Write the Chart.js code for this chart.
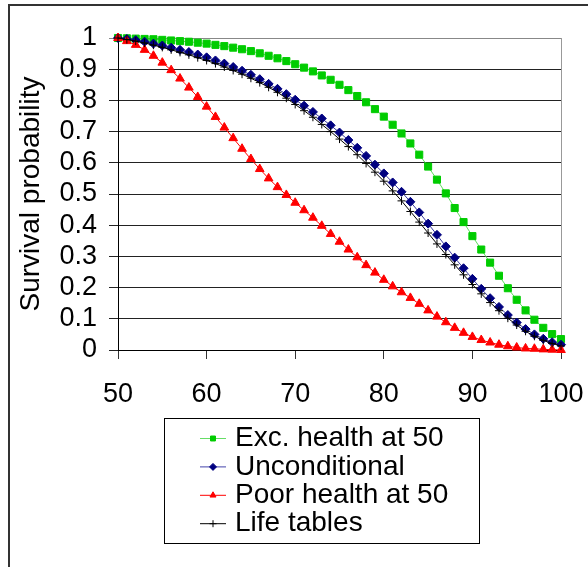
<!DOCTYPE html>
<html lang="en">
<head>
<meta charset="UTF-8">
<title>Survival probability</title>
<script src="https://cdn.jsdelivr.net/npm/chart.js"></script>
<style>
    body { margin: 0; padding: 0; background: #fff; }
    #wrap { width: 588px; height: 567px; }
</style>
</head>
<body>
<div id="wrap"><canvas id="survChart" width="588" height="567"></canvas></div>
<script>
// ages (x) and survival curves
const ages = [50,51,52,53,54,55,56,57,58,59,60,61,62,63,64,65,66,67,68,69,70,71,72,73,74,75,
              76,77,78,79,80,81,82,83,84,85,86,87,88,89,90,91,92,93,94,95,96,97,98,99,100];
const excHealth = [1.000,0.999,0.998,0.997,0.996,0.994,0.992,0.990,0.988,0.985,
                   0.982,0.978,0.974,0.969,0.964,0.958,0.951,0.943,0.935,0.926,
                   0.916,0.905,0.893,0.880,0.866,0.850,0.833,0.814,0.794,0.772,
                   0.748,0.722,0.694,0.662,0.626,0.588,0.546,0.502,0.455,0.410,
                   0.365,0.322,0.280,0.238,0.198,0.161,0.127,0.097,0.071,0.051,0.035];
const unconditional = [1.000,0.997,0.993,0.988,0.982,0.976,0.969,0.962,0.955,0.947,
                       0.938,0.928,0.918,0.907,0.895,0.882,0.868,0.853,0.837,0.820,
                       0.802,0.783,0.763,0.742,0.720,0.697,0.673,0.648,0.622,0.594,
                       0.566,0.537,0.507,0.475,0.441,0.405,0.369,0.332,0.296,0.262,
                       0.228,0.196,0.166,0.138,0.112,0.088,0.067,0.050,0.036,0.025,0.017];
const poorHealth = [1.000,0.990,0.978,0.962,0.943,0.921,0.897,0.870,0.841,0.811,
                    0.780,0.747,0.713,0.679,0.645,0.612,0.580,0.550,0.522,0.497,
                    0.472,0.448,0.424,0.398,0.372,0.347,0.322,0.297,0.272,0.248,
                    0.225,0.204,0.185,0.167,0.148,0.127,0.107,0.089,0.071,0.055,
                    0.042,0.032,0.024,0.017,0.012,0.008,0.005,0.004,0.002,0.001,0.000];
const lifeTables = [1.000,0.995,0.990,0.984,0.977,0.970,0.962,0.954,0.946,0.937,
                    0.928,0.918,0.907,0.896,0.884,0.871,0.857,0.842,0.826,0.807,
                    0.787,0.767,0.746,0.723,0.700,0.676,0.652,0.626,0.598,0.570,
                    0.541,0.510,0.478,0.444,0.410,0.375,0.340,0.306,0.273,0.241,
                    0.210,0.180,0.152,0.126,0.102,0.080,0.060,0.044,0.031,0.021,0.013];
const seriesNames = ['Exc. health at 50', 'Unconditional', 'Poor health at 50', 'Life tables'];
const xTicks = [50, 60, 70, 80, 90, 100];
const yTicks = [0, 0.1, 0.2, 0.3, 0.4, 0.5, 0.6, 0.7, 0.8, 0.9, 1];
const yTickLabels = ['0', '0.1', '0.2', '0.3', '0.4', '0.5', '0.6', '0.7', '0.8', '0.9', '1'];

const FONT = '"Liberation Sans", Arial, sans-serif';

function pts(values) {
    return ages.map((a, i) => ({ x: a, y: values[i] }));
}

// frame round the picture + grey right edge of the plot
const frame = {
    id: 'frame',
    beforeDraw(chart) {
        const ctx = chart.ctx;
        ctx.save();
        ctx.fillStyle = '#fff';
        ctx.fillRect(0, 0, chart.width, chart.height);
        ctx.strokeStyle = '#333';
        ctx.lineWidth = 2;
        ctx.beginPath();
        ctx.moveTo(9, chart.height);
        ctx.lineTo(9, 5);
        ctx.lineTo(chart.width, 5);
        ctx.stroke();
        ctx.restore();
    },
    beforeDatasetsDraw(chart) {
        const a = chart.chartArea, ctx = chart.ctx;
        ctx.save();
        ctx.strokeStyle = '#999';
        ctx.lineWidth = 1;
        ctx.beginPath();
        ctx.moveTo(Math.round(a.right) + 0.5, a.top);
        ctx.lineTo(Math.round(a.right) + 0.5, a.bottom);
        ctx.stroke();
        ctx.restore();
    }
};

// boxed legend below the plot, line + marker like the original
const boxLegend = {
    id: 'boxLegend',
    afterDraw(chart) {
        const ctx = chart.ctx;
        ctx.save();
        ctx.strokeStyle = '#000';
        ctx.lineWidth = 1;
        ctx.strokeRect(164.5, 418.5, 315, 125);
        ctx.font = '28px ' + FONT;
        ctx.textBaseline = 'middle';
        chart.data.datasets.forEach((ds, i) => {
            const y = 438.5 + i * 28.4;
            ctx.strokeStyle = ds.legendLine;
            ctx.lineWidth = 1;
            ctx.beginPath();
            ctx.moveTo(200, y);
            ctx.lineTo(226, y);
            ctx.stroke();
            ctx.fillStyle = ds.pointBackgroundColor;
            ctx.strokeStyle = ds.pointBorderColor;
            Chart.helpers.drawPoint(ctx, { pointStyle: ds.pointStyle, radius: 3.5, borderWidth: 1, rotation: 0 }, 213, y);
            ctx.fillStyle = '#000';
            ctx.fillText(ds.label, 235, y);
        });
        ctx.restore();
    }
};

const ctx = document.getElementById('survChart').getContext('2d');
new Chart(ctx, {
    type: 'line',
    data: {
        datasets: [
            { label: seriesNames[0], data: pts(excHealth), borderColor: '#5fdc5f', legendLine: '#66dd66',
              pointStyle: 'rect', pointRadius: 5, pointBackgroundColor: '#00cc00', pointBorderColor: '#00cc00', order: 3 },
            { label: seriesNames[1], data: pts(unconditional), borderColor: '#3a3aa0', legendLine: '#4444aa',
              pointStyle: 'rectRot', pointRadius: 4.5, pointBackgroundColor: '#000080', pointBorderColor: '#000080', order: 2 },
            { label: seriesNames[2], data: pts(poorHealth), borderColor: '#ff0000', legendLine: '#ff0000',
              pointStyle: 'triangle', pointRadius: 5, pointBackgroundColor: '#ff0000', pointBorderColor: '#ff0000', order: 1 },
            { label: seriesNames[3], data: pts(lifeTables), borderColor: '#000000', legendLine: '#000000',
              pointStyle: 'cross', pointRadius: 4, pointBackgroundColor: '#000000', pointBorderColor: '#000000', order: 0 }
        ].map(d => Object.assign(d, { borderWidth: 1, pointBorderWidth: 1, tension: 0, fill: false, clip: false }))
    },
    options: {
        responsive: false,
        animation: false,
        devicePixelRatio: 1,
        layout: { padding: { top: 38, right: 27, bottom: 157, left: 0 } },
        plugins: { legend: { display: false }, tooltip: { enabled: false } },
        scales: {
            x: {
                type: 'linear', min: 50, max: 100,
                afterBuildTicks: s => { s.ticks = xTicks.map(v => ({ value: v })); },
                afterFit: s => { s.height = 60; s.paddingLeft = 0; s.paddingRight = 0; },
                grid: { drawOnChartArea: false, drawTicks: true, tickLength: 9, color: '#333', lineWidth: 1 },
                border: { color: '#000', width: 1 },
                ticks: { padding: 19, autoSkip: false, color: '#000', font: { family: FONT, size: 27 }, maxRotation: 0 }
            },
            y: {
                min: 0, max: 1,
                afterBuildTicks: s => { s.ticks = yTicks.map(v => ({ value: v })); },
                afterFit: s => { s.width = 118; },
                grid: { drawTicks: true, tickLength: 9, lineWidth: 1,
                        color: c => (c.tick && c.tick.value === 1) ? '#888' : '#222' },
                border: { color: '#000', width: 1 },
                ticks: { padding: 12, autoSkip: false, color: '#000', font: { family: FONT, size: 27 },
                         callback: (v, i) => yTickLabels[i] },
                title: { display: true, text: 'Survival probability', color: '#000',
                         font: { family: FONT, size: 28 }, padding: { top: 14, bottom: 0 } }
            }
        }
    },
    plugins: [frame, boxLegend]
});
</script>
</body>
</html>
